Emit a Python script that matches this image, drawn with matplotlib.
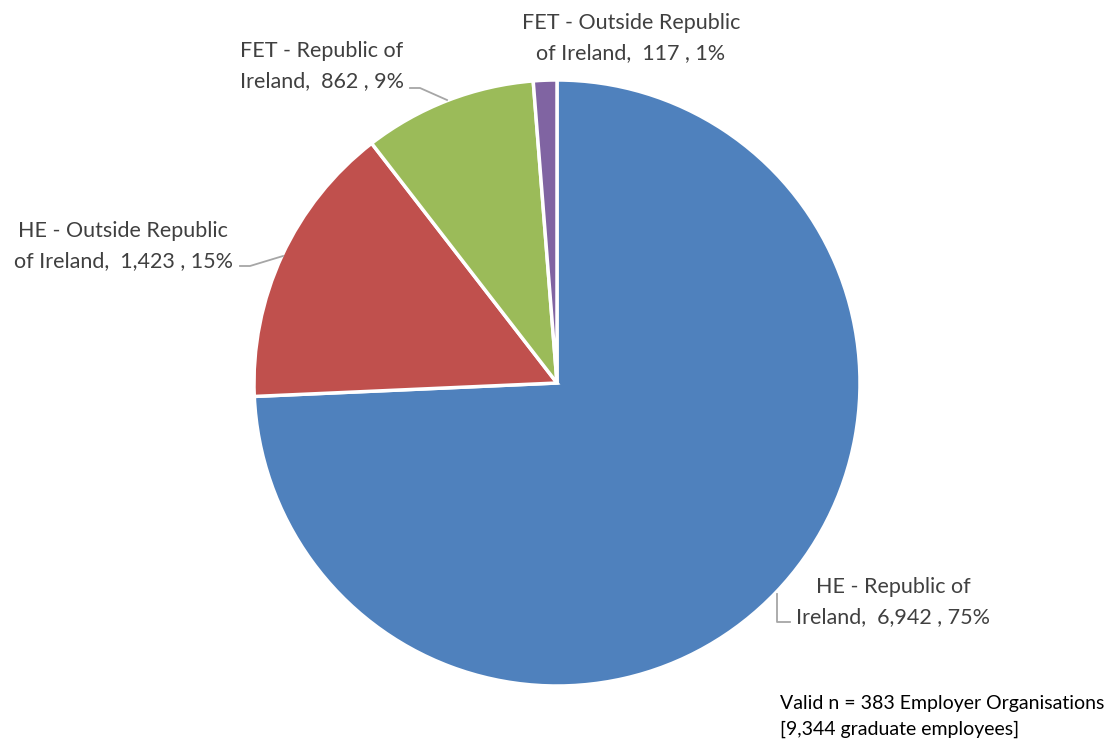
import matplotlib
matplotlib.use("Agg")
import matplotlib.pyplot as plt

categories = ["HE - Republic of Ireland", "HE - Outside Republic of Ireland",
              "FET - Republic of Ireland", "FET - Outside Republic of Ireland"]
values = [6942, 1423, 862, 117]
percents = ["75%", "15%", "9%", "1%"]
label_lines = [("HE - Republic of", "Ireland,  6,942 , 75%"),
               ("HE - Outside Republic", "of Ireland,  1,423 , 15%"),
               ("FET - Republic of", "Ireland,  862 , 9%"),
               ("FET - Outside Republic", "of Ireland,  117 , 1%")]
colors = ["#4F81BD", "#C0504D", "#9BBB59", "#8064A2"]
footnote = ["Valid n = 383 Employer Organisations", "[9,344 graduate employees]"]

W, H = 1110, 742
fig = plt.figure(figsize=(W / 100, H / 100), dpi=100)
ax = fig.add_axes([0, 0, 1, 1])
ax.set_xlim(0, W)
ax.set_ylim(0, H)
ax.set_aspect("equal")
ax.axis("off")

def Y(y):
    return H - y

ax.pie(values, colors=colors, startangle=90, counterclock=False,
       center=(557, Y(383)), radius=303,
       wedgeprops=dict(edgecolor="white", linewidth=2.5))
ax.set_xlim(0, W)
ax.set_ylim(0, H)

font = "Lato"
tc = "#404040"
fs = 15.5
# label text positions (center x, first line y, second line y)
pos = [(893, 587, 617), (123, 231, 261), (322, 51, 81), (631, 23, 53)]
for (l1, l2), (cx, y1, y2) in zip(label_lines, pos):
    ax.text(cx, Y(y1), l1, ha="center", va="center", fontsize=fs, color=tc, family=font)
    ax.text(cx, Y(y2), l2, ha="center", va="center", fontsize=fs, color=tc, family=font)

lc = "#A6A6A6"
# leader lines
ax.plot([777, 777, 790], [Y(594), Y(622), Y(622)], color=lc, lw=1.3)
ax.plot([240, 250, 283], [Y(266), Y(266), Y(256)], color=lc, lw=1.3)
ax.plot([410, 420, 447], [Y(88), Y(88), Y(100)], color=lc, lw=1.3)

ax.text(780, Y(703), footnote[0], ha="left", va="center", fontsize=14, color="black", family=font)
ax.text(780, Y(729), footnote[1], ha="left", va="center", fontsize=14, color="black", family=font)

fig.savefig("out.png", dpi=100, facecolor="white")
